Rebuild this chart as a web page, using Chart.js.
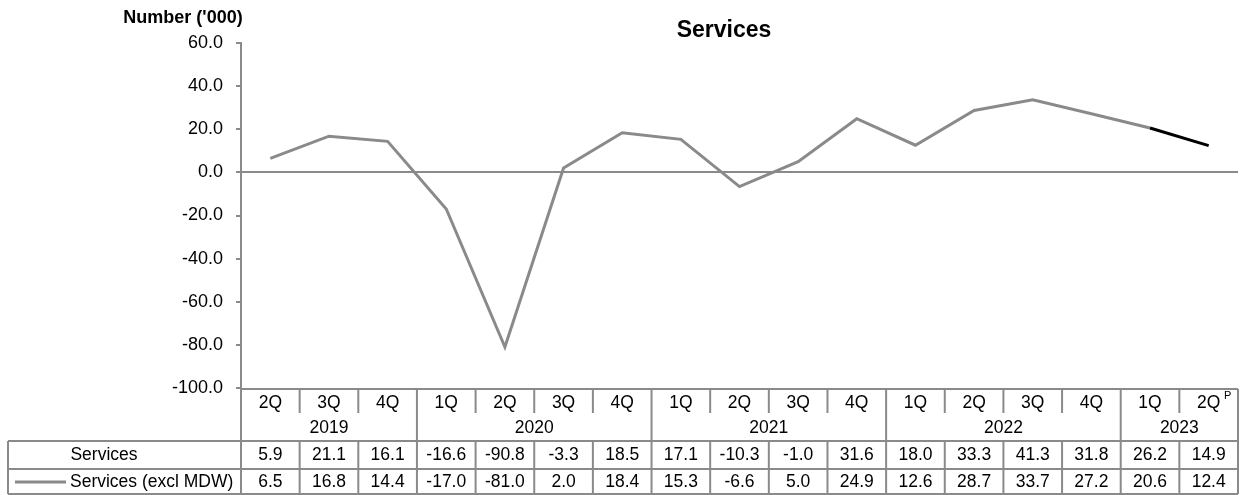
<!DOCTYPE html>
<html>
<head>
<meta charset="utf-8">
<script src="https://cdn.jsdelivr.net/npm/chart.js@4.4.1/dist/chart.umd.min.js"></script>
<style>
  html, body { margin: 0; padding: 0; background: #fff; }
  #wrap { width: 1244px; height: 495px; position: relative; }
</style>
</head>
<body>
<div id="wrap"><canvas id="chart"></canvas></div>
<script>
const quarters = ['2Q', '3Q', '4Q', '1Q', '2Q', '3Q', '4Q', '1Q', '2Q', '3Q', '4Q', '1Q', '2Q', '3Q', '4Q', '1Q', '2Q'];
const yearLabels = ['2019', '2020', '2021', '2022', '2023'];
const yearSpans = [3, 4, 4, 4, 2];
const services = [5.9, 21.1, 16.1, -16.6, -90.8, -3.3, 18.5, 17.1, -10.3, -1.0, 31.6, 18.0, 33.3, 41.3, 31.8, 26.2, 14.9];
const servicesExclMdw = [6.5, 16.8, 14.4, -17.0, -81.0, 2.0, 18.4, 15.3, -6.6, 5.0, 24.9, 12.6, 28.7, 33.7, 27.2, 20.6, 12.4];
const provisionalFrom = 15; // last segment (1Q -> 2Q 2023) drawn in black

const FONT = '"Liberation Sans", Arial, sans-serif';
const GRID = '#8a8a8a';

// draws the title, axis caption and the data table under the plot
const tablePlugin = {
    id: 'dataTable',
    afterDraw(chart) {
        const ctx = chart.ctx;
        const x = chart.scales.x;
        const area = chart.chartArea;
        const colW = x.getPixelForTick(1) - x.getPixelForTick(0);
        const left = area.left, right = area.right;
        const top = area.bottom + 1;
        const rowYear = 441, rowA = 469, bottom = 494, labelLeft = 8;

        ctx.save();
        ctx.fillStyle = '#000';
        ctx.textAlign = 'center';
        ctx.textBaseline = 'middle';
        ctx.font = 'bold 23px ' + FONT;
        ctx.fillText('Services', 724, 31);
        ctx.font = 'bold 18px ' + FONT;
        ctx.fillText("Number ('000)", 183, 18);

        ctx.strokeStyle = GRID;
        ctx.lineWidth = 2;
        const line = (x1, y1, x2, y2) => {
            ctx.beginPath();
            ctx.moveTo(x1, y1);
            ctx.lineTo(x2, y2);
            ctx.stroke();
        };

        line(left, top, right, top);
        line(labelLeft, rowYear, right, rowYear);
        line(labelLeft, rowA, right, rowA);
        line(labelLeft, bottom, right, bottom);
        line(labelLeft, rowYear, labelLeft, bottom);
        line(left, top - 1, left, bottom);
        line(right, top, right, bottom);

        // column separators: full height at year boundaries, short otherwise
        const yearEnds = [];
        let acc = 0;
        yearSpans.forEach(s => { acc += s; yearEnds.push(acc); });
        for (let i = 1; i < quarters.length; i++) {
            const bx = x.getPixelForTick(i) - colW / 2;
            if (yearEnds.includes(i)) {
                line(bx, top, bx, bottom);
            } else {
                line(bx, top, bx, 413);
                line(bx, rowYear, bx, bottom);
            }
        }

        ctx.font = '17.5px ' + FONT;
        quarters.forEach((q, i) => {
            const cx = x.getPixelForTick(i);
            ctx.fillText(q, cx, 403);
            ctx.fillText(services[i].toFixed(1), cx, 455);
            ctx.fillText(servicesExclMdw[i].toFixed(1), cx, 482);
        });
        // preliminary marker on the last quarter
        const lastX = x.getPixelForTick(quarters.length - 1);
        ctx.font = '11px ' + FONT;
        ctx.fillText('P', lastX + 19, 396);

        ctx.font = '17.5px ' + FONT;
        let start = 0;
        yearLabels.forEach((y, k) => {
            const a = x.getPixelForTick(start) - colW / 2;
            const b = x.getPixelForTick(start + yearSpans[k] - 1) + colW / 2;
            ctx.fillText(y, (a + b) / 2, 428);
            start += yearSpans[k];
        });

        ctx.fillText('Services', 104, 455);
        ctx.textAlign = 'left';
        ctx.fillText('Services (excl MDW)', 70, 482);
        ctx.lineWidth = 3;
        line(15, 482, 66, 482);
        ctx.restore();
    }
};

new Chart(document.getElementById('chart'), {
    type: 'line',
    data: {
        labels: quarters,
        datasets: [{
            label: 'Services (excl MDW)',
            data: servicesExclMdw,
            borderColor: '#8a8a8a',
            borderWidth: 3,
            pointRadius: 0,
            tension: 0,
            segment: {
                borderColor: c => c.p0DataIndex >= provisionalFrom ? '#000' : undefined
            }
        }]
    },
    options: {
        responsive: true,
        maintainAspectRatio: false,
        animation: false,
        layout: { padding: { top: 43, right: 6, bottom: 107, left: 0 } },
        plugins: {
            legend: { display: false },
            title: { display: false },
            tooltip: { enabled: false }
        },
        scales: {
            x: {
                type: 'category',
                offset: true,
                display: false
            },
            y: {
                min: -100,
                max: 60,
                afterFit(scale) { scale.width = 241; },
                ticks: {
                    stepSize: 20,
                    color: '#000',
                    padding: 13,
                    font: { family: FONT, size: 18 },
                    callback: v => v.toFixed(1)
                },
                grid: {
                    color: c => c.tick && c.tick.value === 0 ? GRID : 'transparent',
                    lineWidth: 2,
                    tickColor: GRID,
                    tickLength: 5
                },
                border: { display: true, color: GRID, width: 2 }
            }
        }
    },
    plugins: [tablePlugin]
});
</script>
</body>
</html>
